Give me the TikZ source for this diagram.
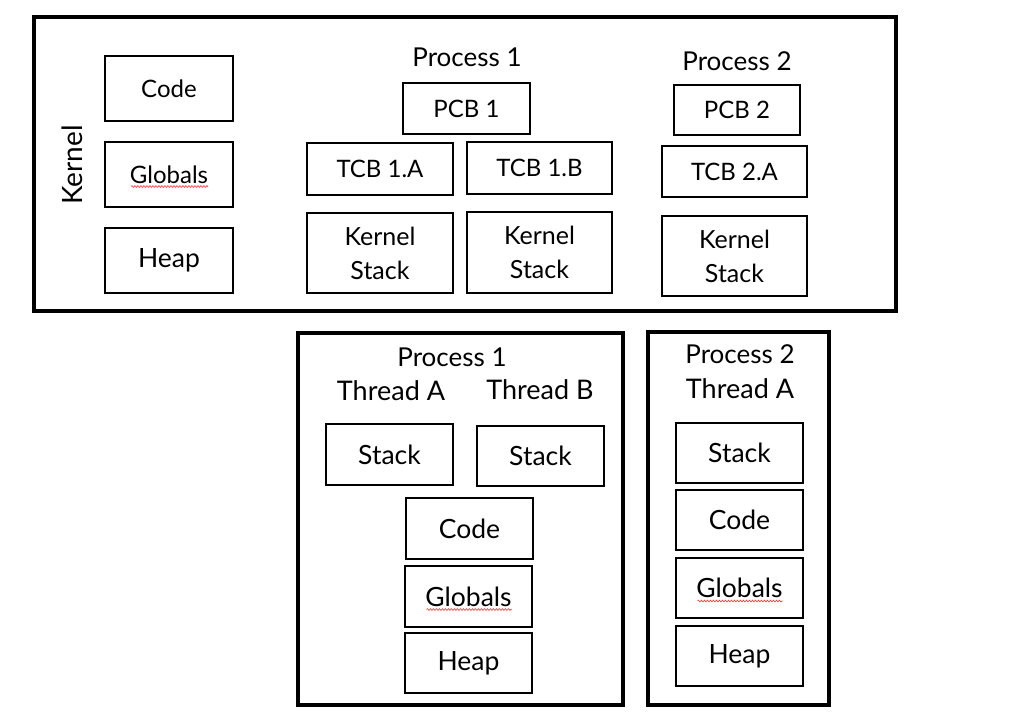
\documentclass[tikz,border=0pt]{standalone}
\usepackage{fontspec}
\setmainfont{Lato}
\usetikzlibrary{decorations.pathmorphing,calc}
\tikzset{
  box/.style={draw=black, line width=2.6pt, rectangle, inner sep=0pt, align=center,
    font=\fontsize{24}{34}\selectfont},
  bigtext/.style={font=\fontsize{26.5}{34}\selectfont},
  kstext/.style={font=\fontsize{25}{34}\selectfont},
  outer/.style={draw=black, line width=4pt, rectangle, inner sep=0pt},
  lbl/.style={inner sep=0pt, font=\fontsize{26}{30}\selectfont},
  thr/.style={inner sep=0pt, font=\fontsize{27}{30}\selectfont},
  squiggle/.style={draw=red!80!white, line width=0.6pt, decorate,
    decoration={snake, segment length=3pt, amplitude=0.9pt}}
}
\begin{document}
\begin{tikzpicture}[x=1pt,y=-1pt]
\useasboundingbox (0,0) rectangle (1025,725);
% Kernel
\node[outer, minimum width=862pt, minimum height=294pt] (kernel) at (465,164) {};
\node[inner sep=0pt, font=\fontsize{28}{30}\selectfont, rotate=90] (klbl) at (72,165) {Kernel};
\node[box, minimum width=128pt, minimum height=65pt] (kcode) at (169,88.5) {Code};
\node[box, minimum width=128pt, minimum height=65pt] (kglob) at (169,174.5) {Globals};
\node[box, bigtext, minimum width=128pt, minimum height=65pt] (kheap) at (169,260.5) {Heap};
\node[lbl] (p1lbl) at (467,57) {Process 1};
\node[box, minimum width=127pt, minimum height=51pt] (pcb1) at (466.5,108.5) {PCB 1};
\node[box, minimum width=146pt, minimum height=52pt] (tcb1a) at (380,169) {TCB 1.A};
\node[box, minimum width=145pt, minimum height=52pt] (tcb1b) at (539.5,168) {TCB 1.B};
\node[box, kstext, minimum width=146pt, minimum height=80pt] (ks1) at (380,253) {Kernel\\Stack};
\node[box, kstext, minimum width=145pt, minimum height=81pt] (ks2) at (539.5,252.5) {Kernel\\Stack};
\node[lbl] (p2lbl) at (737,61) {Process 2};
\node[box, minimum width=126pt, minimum height=50pt] (pcb2) at (737,110) {PCB 2};
\node[box, minimum width=145pt, minimum height=51pt] (tcb2a) at (734.5,171.5) {TCB 2.A};
\node[box, kstext, minimum width=145pt, minimum height=80pt] (ks3) at (734.5,256) {Kernel\\Stack};
% Process 1 user space
\node[outer, minimum width=325pt, minimum height=372pt] (up1) at (460.5,519) {};
\node[lbl] (up1lbl) at (452,357) {Process 1};
\node[thr] (ta) at (391,391) {Thread A};
\node[thr] (tb) at (540,390) {Thread B};
\node[box, bigtext, minimum width=127pt, minimum height=61pt] (sa) at (389.5,454.5) {Stack};
\node[box, bigtext, minimum width=127pt, minimum height=60pt] (sb) at (540.5,456) {Stack};
\node[box, bigtext, minimum width=127pt, minimum height=61pt] (c1) at (469.5,528.5) {Code};
\node[box, bigtext, minimum width=127pt, minimum height=61pt] (g1) at (468.5,596.5) {Globals};
\node[box, bigtext, minimum width=127pt, minimum height=60pt] (h1) at (468.5,663) {Heap};
% Process 2 user space
\node[outer, minimum width=181pt, minimum height=373pt] (up2) at (738.5,518.5) {};
\node[lbl] (up2lbl) at (740,354) {Process 2};
\node[thr] (t2a) at (740,389) {Thread A};
\node[box, bigtext, minimum width=127pt, minimum height=60pt] (s2) at (739.5,453) {Stack};
\node[box, bigtext, minimum width=127pt, minimum height=60pt] (c2) at (739.5,520) {Code};
\node[box, bigtext, minimum width=127pt, minimum height=60pt] (g2) at (739.5,588) {Globals};
\node[box, bigtext, minimum width=127pt, minimum height=60pt] (h2) at (739.5,656) {Heap};
% spell-check squiggles
\draw[squiggle] ($(kglob.center)+(-38,12)$) -- ($(kglob.center)+(39,12)$);
\foreach \n in {g1,g2}{
  \draw[squiggle] ($(\n.center)+(-42,13)$) -- ($(\n.center)+(43,13)$);
}
\end{tikzpicture}
\end{document}
